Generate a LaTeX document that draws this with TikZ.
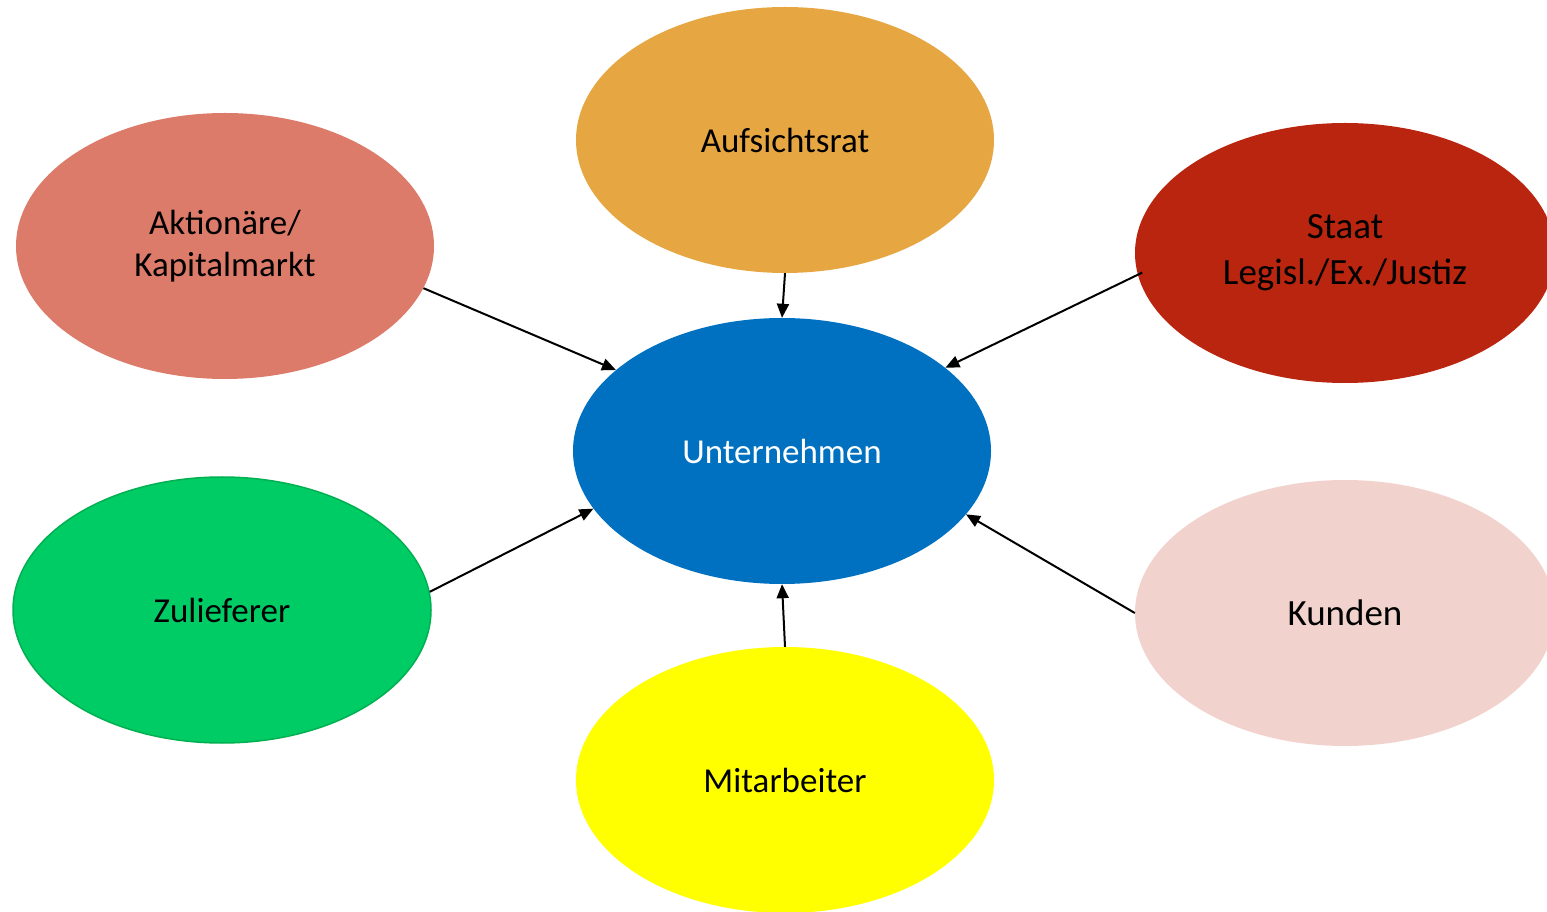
\documentclass[tikz,border=0pt]{standalone}
\usepackage{fontspec}
\setmainfont{Carlito}
\usetikzlibrary{shapes.geometric,arrows.meta}
\definecolor{cAuf}{HTML}{E6A742}
\definecolor{cAkt}{HTML}{DD7B6A}
\definecolor{cSta}{HTML}{B9250F}
\definecolor{cUnt}{HTML}{0070C0}
\definecolor{cZul}{HTML}{00CC66}
\definecolor{cZulB}{HTML}{00B050}
\definecolor{cKun}{HTML}{F2D2CC}
\definecolor{cMit}{HTML}{FFFF00}
\tikzset{
  oval/.style={ellipse, inner sep=0pt, minimum width=418pt, minimum height=266pt,
    align=center, font=\fontsize{35}{42}\selectfont, text=black},
  bigtext/.style={font=\fontsize{37}{46}\selectfont},
  link/.style={line width=2pt, -{Triangle[length=14pt,width=12pt]}}
}
\begin{document}
\begin{tikzpicture}[x=1pt,y=1pt]
\useasboundingbox (0,0) rectangle (1547,911);
\node[oval, fill=cAuf] (auf) at (785,771) {Aufsichtsrat};
\node[oval, fill=cAkt] (akt) at (225,665) {Aktionäre/\\Kapitalmarkt};
\node[oval, bigtext, fill=cSta, minimum height=260pt, minimum width=420pt] (sta) at (1345,658) {Staat\\Legisl./Ex./Justiz};
\node[oval, fill=cUnt, text=white] (unt) at (782,460) {Unternehmen};
\node[oval, fill=cZul, draw=cZulB, line width=1.5pt] (zul) at (222,301) {Zulieferer};
\node[oval, bigtext, fill=cKun, minimum width=420pt] (kun) at (1345,298) {Kunden};
\node[oval, fill=cMit] (mit) at (785,131) {Mitarbeiter};
\draw[link] (akt.-12) -- (unt.154);
\draw[link] (auf.south) -- (unt.north);
\draw[link, shorten <=-5pt] (sta.186) -- (unt.27);
\draw[link] (zul.5) -- (unt.197);
\draw[link] (kun.west) -- (unt.-19);
\draw[link] (mit.north) -- (unt.south);
\end{tikzpicture}
\end{document}
